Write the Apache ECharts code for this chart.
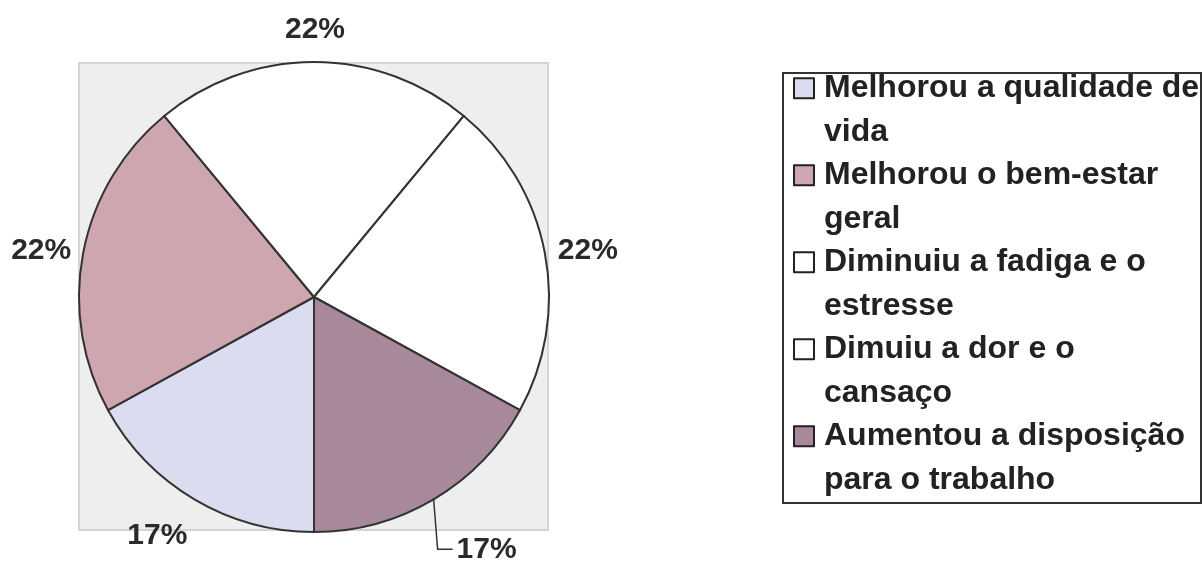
<!DOCTYPE html>
<html>
<head>
<meta charset="utf-8">
<script src="https://cdn.jsdelivr.net/npm/echarts@6/dist/echarts.min.js"></script>
<style>
  html, body { margin: 0; padding: 0; background: #ffffff; }
  #chart { width: 1202px; height: 562px; }
</style>
</head>
<body>
<div id="chart"></div>
<script>
// Benefits reported by participants (share of answers, %)
const categories = [
  'Melhorou a qualidade de vida',
  'Melhorou o bem-estar geral',
  'Diminuiu a fadiga e o estresse',
  'Dimuiu a dor e o cansaço',
  'Aumentou a disposição para o trabalho'
];
const percentages = [17, 22, 22, 22, 17];

// Legend entries, wrapped onto two lines
const legendLabels = [
  'Melhorou a qualidade de\nvida',
  'Melhorou o bem-estar\ngeral',
  'Diminuiu a fadiga e o\nestresse',
  'Dimuiu a dor e o\ncansaço',
  'Aumentou a disposição\npara o trabalho'
];

const palette = ['#dcdcf0', '#cda6b0', '#ffffff', '#ffffff', '#a8899b'];

// Offset of each percentage label from the outer edge of its slice
const labelOffsets = [[-37, 36], [-42, -2], [1, -32], [43, -2]];
// Leader line of the last slice: knee and end, relative to the slice edge
const leaderKnee = [4, 50];
const leaderEnd = [19, 50];

const FONT = '"Liberation Sans", Arial, Helvetica, sans-serif';

const chart = echarts.init(document.getElementById('chart'), null, { renderer: 'canvas' });

const pieData = categories.map((name, i) => {
  const item = { name: name, value: percentages[i], itemStyle: { color: palette[i] } };
  if (i < categories.length - 1) {
    item.labelLine = { lineStyle: { opacity: 0 } };
  }
  return item;
});

chart.setOption({
  animation: false,
  backgroundColor: '#ffffff',
  graphic: [
    {
      type: 'rect',
      z: 0,
      shape: { x: 79, y: 63, width: 469, height: 467 },
      style: { fill: '#eeeeee', stroke: '#d4d4d4', lineWidth: 2 }
    },
    {
      type: 'rect',
      z: 0,
      shape: { x: 783, y: 73, width: 418, height: 430 },
      style: { fill: 'none', stroke: '#333333', lineWidth: 2 }
    }
  ],
  legend: {
    orient: 'vertical',
    left: 793,
    top: 23,
    padding: 0,
    itemGap: -43.5,
    itemWidth: 20,
    itemHeight: 20,
    icon: 'rect',
    selectedMode: false,
    itemStyle: { borderColor: '#222222', borderWidth: 2 },
    data: categories,
    formatter: function (name) {
      return '\n' + legendLabels[categories.indexOf(name)];
    },
    textStyle: {
      fontFamily: FONT,
      fontWeight: 'bold',
      fontSize: 32,
      lineHeight: 43.5,
      color: '#222222',
      padding: [0, 0, 0, 5]
    }
  },
  series: [
    {
      type: 'pie',
      center: [314, 297],
      radius: 235,
      startAngle: -90,
      clockwise: true,
      avoidLabelOverlap: false,
      emphasis: { disabled: true },
      itemStyle: { borderColor: '#333333', borderWidth: 2 },
      label: {
        show: true,
        position: 'outside',
        formatter: '{c}%',
        fontFamily: FONT,
        fontWeight: 'bold',
        fontSize: 30,
        color: '#2a2a2a'
      },
      labelLine: {
        show: true,
        length: 10,
        length2: 10,
        smooth: false,
        lineStyle: { color: '#333333', width: 1.5 }
      },
      labelLayout: function (p) {
        const pts = p.labelLinePoints;
        if (!pts) return {};
        const x0 = pts[0][0];
        const y0 = pts[0][1];
        if (p.dataIndex === categories.length - 1) {
          return {
            x: x0 + leaderEnd[0] + 4,
            y: y0 + leaderEnd[1],
            align: 'left',
            verticalAlign: 'middle',
            labelLinePoints: [
              [x0, y0],
              [x0 + leaderKnee[0], y0 + leaderKnee[1]],
              [x0 + leaderEnd[0], y0 + leaderEnd[1]]
            ]
          };
        }
        const o = labelOffsets[p.dataIndex];
        return { x: x0 + o[0], y: y0 + o[1], align: 'center', verticalAlign: 'middle' };
      },
      data: pieData
    }
  ]
});
</script>
</body>
</html>
